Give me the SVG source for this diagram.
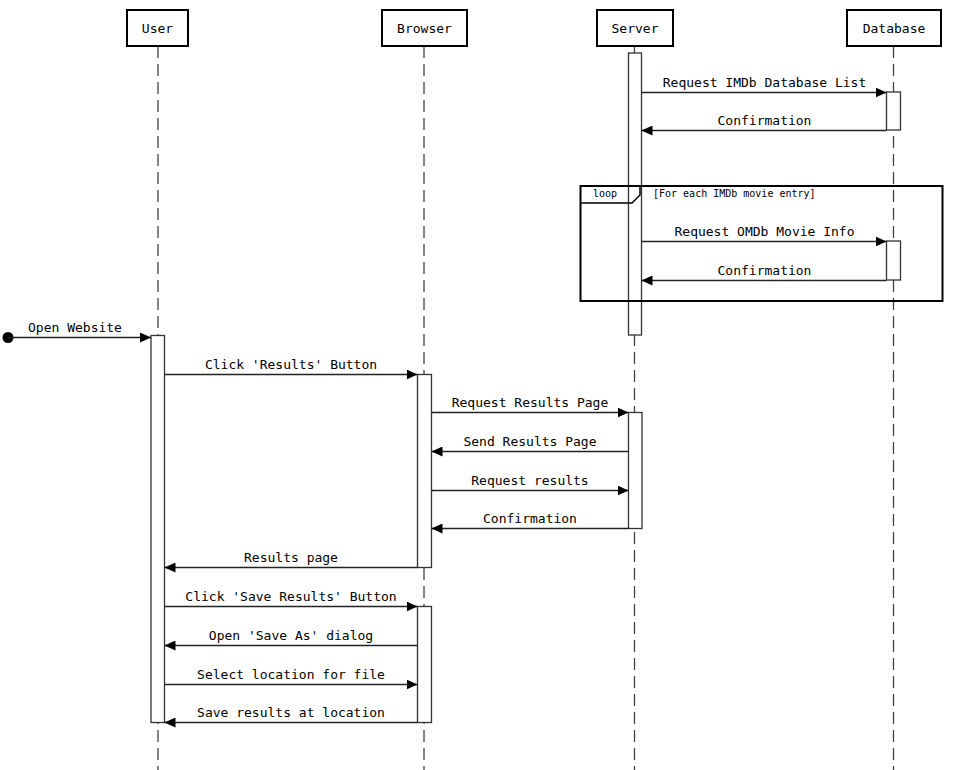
<svg xmlns="http://www.w3.org/2000/svg" width="963" height="770" viewBox="0 0 963 770">
<style>
.box{fill:#fff;stroke:#000;stroke-width:2}
.pt{font-family:"DejaVu Sans Mono","Liberation Mono",monospace;font-size:13px;fill:#000;text-anchor:middle}
.life{stroke:#444;stroke-width:1.3;stroke-dasharray:12,6;fill:none}
.act{fill:#fff;stroke:#333;stroke-width:1.3}
.msg{stroke:#222;stroke-width:1.3;fill:none;marker-end:url(#ah)}
.ml{font-family:"DejaVu Sans Mono","Liberation Mono",monospace;font-size:13px;fill:#000;text-anchor:middle}
.sm{font-family:"DejaVu Sans Mono","Liberation Mono",monospace;font-size:10px;fill:#000}
</style>
<defs>
<marker id="ah" markerUnits="userSpaceOnUse" markerWidth="11" markerHeight="10" refX="11" refY="5" orient="auto">
<path d="M0,0 L11,5 L0,10 z" fill="#000"/>
</marker>
</defs>
<rect width="963" height="770" fill="#fff"/>
<g id="lifelines">
<line class="life" x1="158" y1="46" x2="158" y2="770"/>
<line class="life" x1="424" y1="46" x2="424" y2="770"/>
<line class="life" x1="634.5" y1="46" x2="634.5" y2="770"/>
<line class="life" x1="893.5" y1="46" x2="893.5" y2="770"/>
</g>
<g id="User"><rect class="box" x="127" y="10" width="61" height="36"/><text class="pt" x="157.5" y="33">User</text></g>
<g id="Browser"><rect class="box" x="382" y="10" width="85" height="36"/><text class="pt" x="424.5" y="33">Browser</text></g>
<g id="Server"><rect class="box" x="597" y="10" width="76" height="36"/><text class="pt" x="635" y="33">Server</text></g>
<g id="Database"><rect class="box" x="847" y="10" width="94" height="36"/><text class="pt" x="894" y="33">Database</text></g>
<g id="activations">
<rect class="act" x="628.5" y="53" width="13" height="282"/>
<rect class="act" x="886.5" y="92" width="14" height="38"/>
<rect class="act" x="886.5" y="241" width="14" height="39"/>
<rect class="act" x="151" y="335.5" width="13.5" height="387"/>
<rect class="act" x="417.5" y="374.5" width="14" height="193"/>
<rect class="act" x="628.5" y="412.5" width="13.5" height="116"/>
<rect class="act" x="417.5" y="606.5" width="14" height="116"/>
</g>
<g id="loop">
<rect x="580.5" y="186" width="362" height="115" fill="none" stroke="#000" stroke-width="2"/>
<path d="M580.5,203 L632,203 L640,195 L640,186" fill="none" stroke="#000" stroke-width="1.5"/>
<text class="sm" x="593" y="197">loop</text>
<text class="sm" x="653" y="197">[For each IMDb movie entry]</text>
</g>
<g id="connectors">
<line class="msg" x1="641.5" y1="92.5" x2="886.5" y2="92.5"/>
<text class="ml" x="764.5" y="87">Request IMDb Database List</text>
<line class="msg" x1="886.5" y1="130.5" x2="641.5" y2="130.5"/>
<text class="ml" x="764.5" y="125">Confirmation</text>
<line class="msg" x1="641.5" y1="241.5" x2="886.5" y2="241.5"/>
<text class="ml" x="764.5" y="236">Request OMDb Movie Info</text>
<line class="msg" x1="886.5" y1="280.5" x2="641.5" y2="280.5"/>
<text class="ml" x="764.5" y="275">Confirmation</text>
<circle cx="8" cy="337.5" r="5.5" fill="#000"/>
<line class="msg" x1="8" y1="337.5" x2="151" y2="337.5"/>
<text class="ml" x="75" y="332">Open Website</text>
<line class="msg" x1="164.5" y1="374.5" x2="417.5" y2="374.5"/>
<text class="ml" x="291" y="369">Click 'Results' Button</text>
<line class="msg" x1="431.5" y1="412.5" x2="628.5" y2="412.5"/>
<text class="ml" x="530" y="407">Request Results Page</text>
<line class="msg" x1="628.5" y1="451.5" x2="431.5" y2="451.5"/>
<text class="ml" x="530" y="446">Send Results Page</text>
<line class="msg" x1="431.5" y1="490.5" x2="628.5" y2="490.5"/>
<text class="ml" x="530" y="485">Request results</text>
<line class="msg" x1="628.5" y1="528.5" x2="431.5" y2="528.5"/>
<text class="ml" x="530" y="523">Confirmation</text>
<line class="msg" x1="417.5" y1="567.5" x2="164.5" y2="567.5"/>
<text class="ml" x="291" y="562">Results page</text>
<line class="msg" x1="164.5" y1="606.5" x2="417.5" y2="606.5"/>
<text class="ml" x="291" y="601">Click 'Save Results' Button</text>
<line class="msg" x1="417.5" y1="645.5" x2="164.5" y2="645.5"/>
<text class="ml" x="291" y="640">Open 'Save As' dialog</text>
<line class="msg" x1="164.5" y1="684.5" x2="417.5" y2="684.5"/>
<text class="ml" x="291" y="679">Select location for file</text>
<line class="msg" x1="417.5" y1="722.5" x2="164.5" y2="722.5"/>
<text class="ml" x="291" y="717">Save results at location</text>
</g>
</svg>
